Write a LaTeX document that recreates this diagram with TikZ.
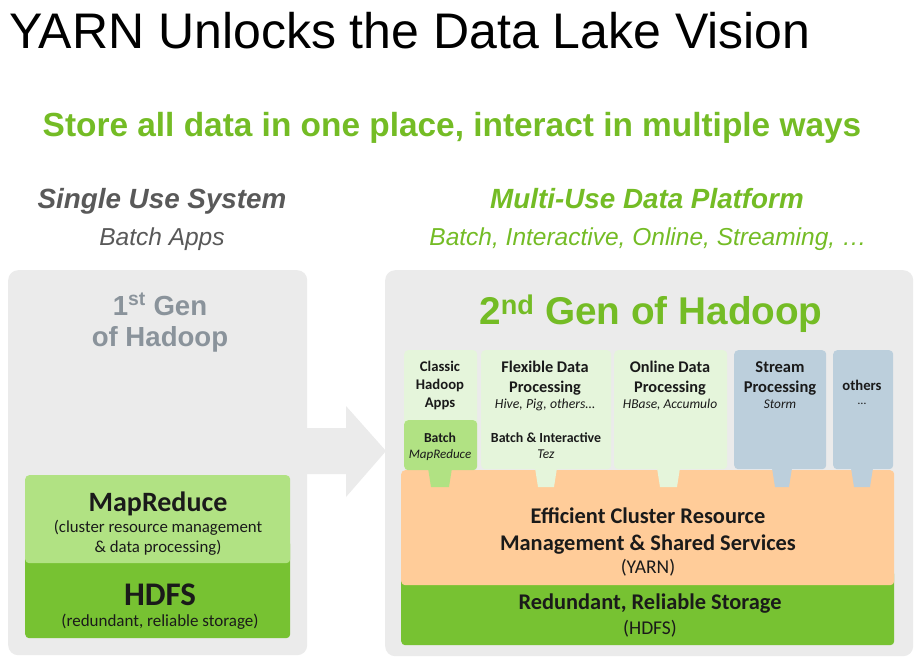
\documentclass[tikz,border=0pt]{standalone}
\usepackage{fontspec}
\setmainfont{Liberation Sans}
\newfontfamily\calibri{Carlito}
\definecolor{hgreen}{HTML}{74BC25}
\definecolor{graytxt}{HTML}{595959}
\definecolor{gentxt}{HTML}{8A939B}
\definecolor{panelbg}{HTML}{EBEBEB}
\definecolor{mrgreen}{HTML}{B1E283}
\definecolor{hdfsgreen}{HTML}{77C232}
\definecolor{palegreen}{HTML}{E5F5DB}
\definecolor{peach}{HTML}{FFCC99}
\definecolor{bluegray}{HTML}{BCCFDC}
\definecolor{boxtxt}{HTML}{1A1A1A}
\newcommand{\fsz}[1]{\fontsize{#1}{#1}\selectfont}
\tikzset{
  panel/.style={fill=panelbg, rounded corners=10pt, inner sep=0, anchor=north west},
  box/.style={rounded corners=4pt, inner sep=0, anchor=north west},
  lbl/.style={anchor=base, inner sep=0, text=boxtxt},
}
\begin{document}
\begin{tikzpicture}[x=1pt,y=-1pt]
\useasboundingbox (0,0) rectangle (919,659);
\fill[white] (0,0) rectangle (919,659);

% titles
\node[anchor=base west, inner sep=0, font=\fsz{50}] (title) at (9,48) {YARN Unlocks the Data Lake Vision};
\node[anchor=base, inner sep=0, font=\bfseries\fsz{33.4}, text=hgreen] (sub) at (452,136) {Store all data in one place, interact in multiple ways};
\node[anchor=base, inner sep=0, font=\bfseries\itshape\fsz{27.8}, text=graytxt] (single) at (162,208) {Single Use System};
\node[anchor=base, inner sep=0, font=\itshape\fsz{24.5}, text=graytxt] (batchapps) at (162,245) {Batch Apps};
\node[anchor=base, inner sep=0, font=\bfseries\itshape\fsz{27.8}, text=hgreen] (multi) at (647,208) {Multi-Use Data Platform};
\node[anchor=base, inner sep=0, font=\itshape\fsz{24.5}, text=hgreen] (modes) at (648,245) {Batch, Interactive, Online, Streaming, …};

% panels
\node[panel, minimum width=299pt, minimum height=385pt] (lpanel) at (8,270) {};
\node[panel, minimum width=528pt, minimum height=386pt] (rpanel) at (385,270) {};
% big arrow
\fill[panelbg] (300,428) -- (346,428) -- (346,406) -- (386,451) -- (346,497) -- (346,474) -- (300,474) -- cycle;

% left panel contents
\node[lbl, font=\bfseries\fsz{27.6}, text=gentxt] (gen1a) at (160,315) {1\textsuperscript{st} Gen};
\node[lbl, font=\bfseries\fsz{27.6}, text=gentxt] (gen1b) at (160,346) {of Hadoop};
\node[box, fill=hdfsgreen, minimum width=265pt, minimum height=98pt] (lhdfs) at (25,540) {};
\node[box, fill=mrgreen, minimum width=265pt, minimum height=88pt] (lmr) at (25,475) {};
\node[lbl, font=\calibri\bfseries\fsz{28}] (mrt) at (158,511) {MapReduce};
\node[lbl, font=\calibri\fsz{16.8}] (mrs1) at (158,532) {(cluster resource management};
\node[lbl, font=\calibri\fsz{16.8}] (mrs2) at (158,552) {\& data processing)};
\node[lbl, font=\calibri\bfseries\fsz{33}] (hdfst) at (160,605) {HDFS};
\node[lbl, font=\calibri\fsz{17}] (hdfss) at (160,626) {(redundant, reliable storage)};

% right panel contents
\node[lbl, font=\bfseries\fsz{38.7}, text=hgreen] (gen2) at (651,324) {2\textsuperscript{nd} Gen of Hadoop};

% HDFS and YARN layers
\node[box, fill=hdfsgreen, minimum width=493pt, minimum height=75pt] (rhdfs) at (401,570) {};
\node[box, fill=peach, minimum width=493pt, minimum height=115pt] (yarn) at (401,470) {};

% top app boxes
\node[box, fill=palegreen, minimum width=73pt, minimum height=119pt] (classic) at (404,350) {};
\node[box, fill=mrgreen, minimum width=73pt, minimum height=50pt] (batch) at (404,420) {};
\node[box, fill=palegreen, minimum width=130pt, minimum height=119pt] (flex) at (481,350) {};
\node[box, fill=palegreen, minimum width=113pt, minimum height=119pt] (online) at (614,350) {};
\node[box, fill=bluegray, minimum width=92pt, minimum height=119pt] (stream) at (734,350) {};
\node[box, fill=bluegray, minimum width=60pt, minimum height=119pt] (others) at (833,350) {};

% tabs
\fill[mrgreen] (428,468) -- (452,468) -- (449,487) -- (431,487) -- cycle;
\fill[palegreen] (535,468) -- (557,468) -- (554,487) -- (538,487) -- cycle;
\fill[palegreen] (657,468) -- (680,468) -- (677,487) -- (660,487) -- cycle;
\fill[bluegray] (772,468) -- (792,468) -- (789,487) -- (775,487) -- cycle;
\fill[bluegray] (851,468) -- (873,468) -- (870,487) -- (854,487) -- cycle;

% app texts
\node[lbl, font=\calibri\bfseries\fsz{14.7}] (c1) at (440,371) {Classic};
\node[lbl, font=\calibri\bfseries\fsz{14.7}] (c2) at (440,389) {Hadoop};
\node[lbl, font=\calibri\bfseries\fsz{14.7}] (c3) at (440,407) {Apps};
\node[lbl, font=\calibri\bfseries\fsz{13.7}] (b1) at (440,442) {Batch};
\node[lbl, font=\calibri\itshape\fsz{13}] (b2) at (440,458) {MapReduce};

\node[lbl, font=\calibri\bfseries\fsz{16.3}] (f1) at (545,372) {Flexible Data};
\node[lbl, font=\calibri\bfseries\fsz{16.3}] (f2) at (545,392) {Processing};
\node[lbl, font=\calibri\itshape\fsz{13.8}] (f3) at (545,408) {Hive, Pig, others…};
\node[lbl, font=\calibri\bfseries\fsz{13.9}] (f4) at (546,442) {Batch \& Interactive};
\node[lbl, font=\calibri\itshape\fsz{13.5}] (f5) at (546,458) {Tez};

\node[lbl, font=\calibri\bfseries\fsz{16.3}] (o1) at (670,372) {Online Data};
\node[lbl, font=\calibri\bfseries\fsz{16.3}] (o2) at (670,392) {Processing};
\node[lbl, font=\calibri\itshape\fsz{13.5}] (o3) at (670,408) {HBase, Accumulo};

\node[lbl, font=\calibri\bfseries\fsz{16.5}] (s1) at (780,372) {Stream};
\node[lbl, font=\calibri\bfseries\fsz{16.5}] (s2) at (780,392) {Processing};
\node[lbl, font=\calibri\itshape\fsz{13.3}] (s3) at (780,408) {Storm};

\node[lbl, font=\calibri\bfseries\fsz{14.7}] (ot1) at (862,390) {others};
\node[lbl, font=\calibri\fsz{12}] (ot2) at (862,404) {…};

% layer texts
\node[lbl, font=\calibri\bfseries\fsz{22.4}] (y1) at (648,523) {Efficient Cluster Resource};
\node[lbl, font=\calibri\bfseries\fsz{22.4}] (y2) at (648,550) {Management \& Shared Services};
\node[lbl, font=\calibri\fsz{19.5}] (y3) at (648,573) {(YARN)};
\node[lbl, font=\calibri\bfseries\fsz{22.4}] (h1) at (650,609) {Redundant, Reliable Storage};
\node[lbl, font=\calibri\fsz{19.5}] (h2) at (650,634) {(HDFS)};
\end{tikzpicture}
\end{document}
